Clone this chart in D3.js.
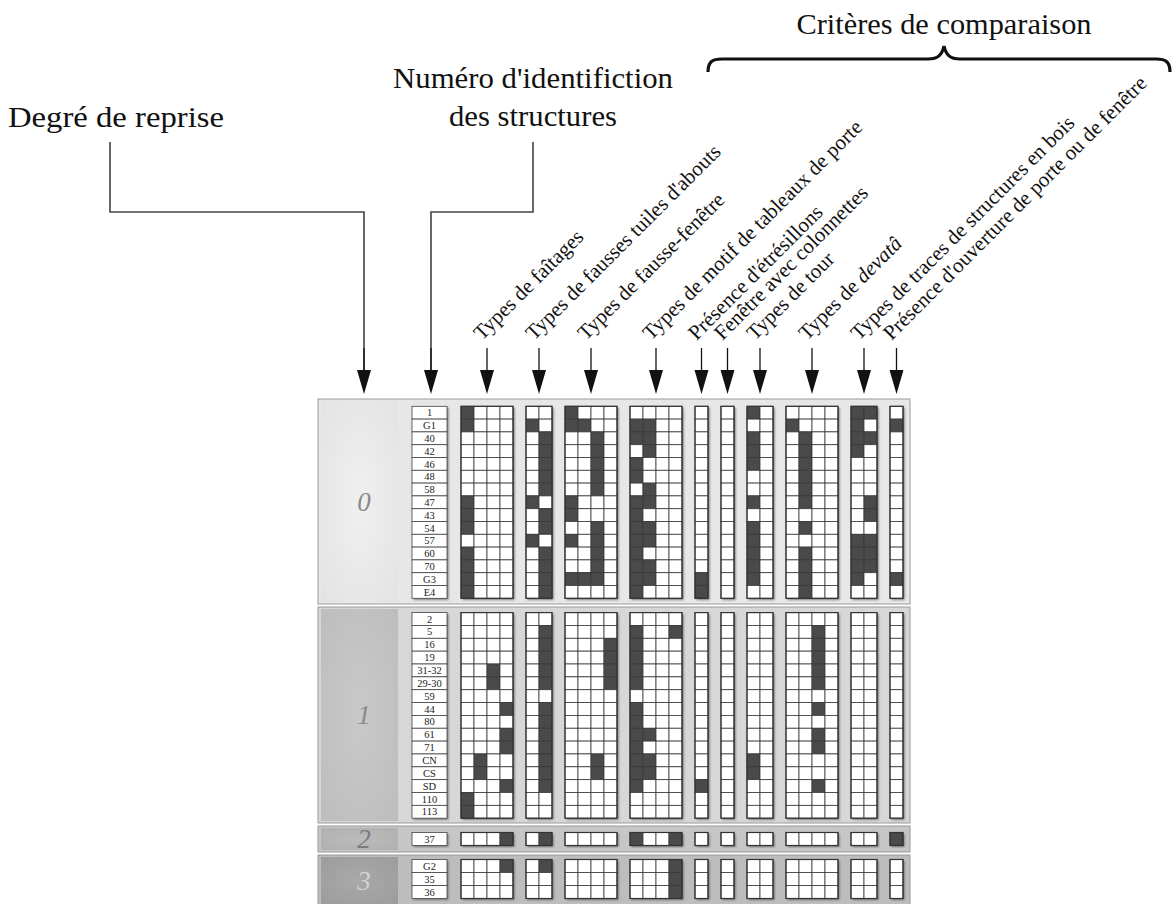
<!DOCTYPE html>
<html><head><meta charset="utf-8">
<script src="https://cdn.jsdelivr.net/npm/d3@7"></script>
<style>
body{margin:0;background:#fff}
text{font-family:"Liberation Serif","DejaVu Serif",serif}
</style>
</head><body>
<svg id="c" width="1173" height="904"></svg>
<script>
// ---------------- DATA ----------------
const groupLabels = ["0", "1", "2", "3"];
const ids0 = ["1","G1","40","42","46","48","58","47","43","54","57","60","70","G3","E4"];
const ids1 = ["2","5","16","19","31-32","29-30","59","44","80","61","71","CN","CS","SD","110","113"];
const ids2 = ["37"];
const ids3 = ["G2","35","36"];
const criteria = [
  "Types de faîtages",
  "Types de fausses tuiles d'abouts",
  "Types de fausse-fenêtre",
  "Types de motif de tableaux de porte",
  "Présence d'étrésillons",
  "Fenêtre avec colonnettes",
  "Types de tour",
  "Types de |devatâ",
  "Types de traces de structures en bois",
  "Présence d'ouverture de porte ou de fenêtre"
];
const criteriaCols = [4, 2, 4, 4, 1, 1, 2, 4, 2, 1];
// one string per structure: filled cells (1) per criterion block
const cells0 = [
  "1000 00 1000 0000 0 0 10 0000 11 0", // 1
  "1000 10 1100 1100 0 0 00 1000 10 1", // G1
  "0000 01 0010 1100 0 0 10 0100 11 0", // 40
  "0000 01 0010 0100 0 0 10 0100 10 0", // 42
  "0000 01 0010 1000 0 0 10 0100 00 0", // 46
  "0000 01 0010 1000 0 0 00 0100 00 0", // 48
  "0000 01 0010 0100 0 0 00 0100 00 0", // 58
  "1000 10 1000 1100 0 0 10 0100 01 0", // 47
  "1000 01 1000 1000 0 0 00 0000 01 0", // 43
  "1000 01 0010 1100 0 0 10 0100 00 0", // 54
  "0000 10 1010 1100 0 0 10 0000 11 0", // 57
  "1000 01 0010 1000 0 0 10 0100 11 0", // 60
  "1000 01 0010 1100 0 0 10 0100 11 0", // 70
  "1000 01 1110 1100 1 0 10 0100 10 1", // G3
  "1000 01 0000 1000 1 0 00 0100 00 0"  // E4
];
const cells1 = [
  "0000 00 0000 0000 0 0 00 0000 00 0", // 2
  "0000 01 0000 1001 0 0 00 0010 00 0", // 5
  "0000 01 0001 1000 0 0 00 0010 00 0", // 16
  "0000 01 0001 1000 0 0 00 0010 00 0", // 19
  "0010 01 0001 1000 0 0 00 0010 00 0", // 31-32
  "0010 01 0001 1000 0 0 00 0010 00 0", // 29-30
  "0000 00 0000 0000 0 0 00 0000 00 0", // 59
  "0001 01 0000 1000 0 0 00 0010 00 0", // 44
  "0000 01 0000 1000 0 0 00 0000 00 0", // 80
  "0001 01 0000 1100 0 0 00 0010 00 0", // 61
  "0001 01 0000 1000 0 0 00 0010 00 0", // 71
  "0100 01 0010 1100 0 0 10 0000 00 0", // CN
  "0100 01 0010 1100 0 0 10 0000 00 0", // CS
  "0001 01 0000 1000 1 0 00 0010 00 0", // SD
  "1000 00 0000 0000 0 0 00 0000 00 0", // 110
  "1000 00 0000 0000 0 0 00 0000 00 0"  // 113
];
const cells2 = [
  "0001 01 0000 1001 0 0 00 0000 00 1"  // 37
];
const cells3 = [
  "0001 01 0000 0001 0 0 00 0000 00 0", // G2
  "0000 00 0000 0001 0 0 00 0000 00 0", // 35
  "0000 00 0000 0001 0 0 00 0000 00 0"  // 36
];

// ---------------- LAYOUT ----------------
const svg = d3.select("#c");
const defs = svg.append("defs");

const groups = [
  {label: groupLabels[0], ids: ids0, cells: cells0, top: 399, bottom: 604, rowTop: 406.3, rowH: 12.8, bg: "#e7e7e7", lab: "#f0f0f0", labEdge: "#e3e3e3", num: "#8a8a8a"},
  {label: groupLabels[1], ids: ids1, cells: cells1, top: 607, bottom: 823, rowTop: 612.6, rowH: 12.85, bg: "#d7d7d7", lab: "#c9c9c9", labEdge: "#bdbdbd", num: "#8a8a8a"},
  {label: groupLabels[2], ids: ids2, cells: cells2, top: 826, bottom: 852, rowTop: 832.5, rowH: 13, bg: "#c6c6c6", lab: "#bbbbbb", labEdge: "#b0b0b0", num: "#7a7a7a"},
  {label: groupLabels[3], ids: ids3, cells: cells3, top: 855, bottom: 906, rowTop: 859.5, rowH: 13, bg: "#bdbdbd", lab: "#a9a9a9", labEdge: "#9c9c9c", num: "#d2d2d2"}
];

// column scale in cell units: blocks separated by one empty unit
const starts = [];
let u = 0;
criteriaCols.forEach(n => { starts.push(u); u += n + 1; });
const totalUnits = u - 1;
const x = d3.scaleLinear().domain([0, totalUnits]).range([461, 903]);
const cw = x(1) - x(0);

const panelL = 318, panelR = 910, labR = 399;
const idL = 412, idR = 447;

groups.forEach((g, i) => {
  const gr = defs.append("radialGradient").attr("id", "lg" + i)
    .attr("cx", "50%").attr("cy", "50%").attr("r", "70%");
  gr.append("stop").attr("offset", "0%").attr("stop-color", g.lab);
  gr.append("stop").attr("offset", "100%").attr("stop-color", g.labEdge);
});
const sh = defs.append("filter").attr("id", "sh").attr("x", "-20%").attr("y", "-5%").attr("width", "140%").attr("height", "110%");
sh.append("feGaussianBlur").attr("stdDeviation", 1.2);

groups.forEach((g, i) => {
  svg.append("rect").attr("x", panelL).attr("y", g.top).attr("width", panelR - panelL).attr("height", g.bottom - g.top)
    .attr("fill", g.bg).attr("stroke", "#9a9a9a").attr("stroke-width", 1);
  svg.append("rect").attr("x", panelL + 3).attr("y", g.top + 2).attr("width", labR - panelL - 4).attr("height", g.bottom - g.top - 4)
    .attr("fill", `url(#lg${i})`);
  svg.append("text").attr("x", 364).attr("y", (g.top + g.bottom) / 2 + 9)
    .attr("text-anchor", "middle").attr("font-size", 27).attr("font-style", "italic")
    .attr("fill", g.num).text(g.label);

  const y = d3.scaleBand().domain(g.ids).range([g.rowTop, g.rowTop + g.rowH * g.ids.length]);
  const y0 = y.range()[0], y1 = y.range()[1];

  svg.append("rect").attr("x", idL + 1.5).attr("y", y0 + 1.5).attr("width", idR - idL).attr("height", y1 - y0)
    .attr("fill", "#777").attr("filter", "url(#sh)");
  svg.selectAll(null).data(g.ids).join("rect")
    .attr("x", idL).attr("y", d => y(d)).attr("width", idR - idL).attr("height", y.bandwidth())
    .attr("fill", "#fff").attr("stroke", "#444").attr("stroke-width", 0.8);
  svg.selectAll(null).data(g.ids).join("text")
    .attr("x", (idL + idR) / 2).attr("y", d => y(d) + y.bandwidth() / 2 + 3.6)
    .attr("text-anchor", "middle").attr("font-size", 10.5).attr("fill", "#222").text(d => d);

  criteriaCols.forEach((n, b) => {
    const bx = x(starts[b]);
    svg.append("rect").attr("x", bx + 1.5).attr("y", y0 + 1.5).attr("width", n * cw).attr("height", y1 - y0)
      .attr("fill", "#6f6f6f").attr("filter", "url(#sh)");
    const cellData = [];
    g.ids.forEach((id, r) => {
      const pat = g.cells[r].split(" ")[b];
      for (let c = 0; c < n; c++) cellData.push({id, c, v: pat[c] === "1"});
    });
    svg.selectAll(null).data(cellData).join("rect")
      .attr("x", d => x(starts[b] + d.c)).attr("y", d => y(d.id))
      .attr("width", cw).attr("height", y.bandwidth())
      .attr("fill", d => d.v ? "#4a4a4a" : "#fff")
      .attr("stroke", "#3a3a3a").attr("stroke-width", 0.8);
    svg.append("rect").attr("x", bx).attr("y", y0).attr("width", n * cw).attr("height", y1 - y0)
      .attr("fill", "none").attr("stroke", "#333").attr("stroke-width", 1.2);
  });
});

// ---------------- HEADER ----------------
function arrow(ax) {
  svg.append("line").attr("x1", ax).attr("x2", ax).attr("y1", 348).attr("y2", 374)
    .attr("stroke", "#111").attr("stroke-width", 1.3);
  svg.append("path").attr("d", `M${ax - 7},370 L${ax + 7},370 L${ax},394 Z`).attr("fill", "#111");
}
const idX = (idL + idR) / 2 + 1.5, degX = 364;
svg.append("path").attr("d", `M110,142 V212 H${degX} V372`).attr("fill", "none").attr("stroke", "#444").attr("stroke-width", 1.6);
svg.append("path").attr("d", `M533,142 V212 H${idX} V372`).attr("fill", "none").attr("stroke", "#444").attr("stroke-width", 1.6);
arrow(degX);
arrow(idX);

criteria.forEach((t, b) => {
  const ax = x(starts[b]) + criteriaCols[b] * cw / 2;
  arrow(ax);
  const txt = svg.append("text").attr("transform", `translate(${ax - 5},341) rotate(-45)`)
    .attr("font-size", 21).attr("fill", "#111");
  const parts = t.split("|");
  txt.append("tspan").text(parts[0]);
  if (parts[1]) txt.append("tspan").attr("font-style", "italic").text(parts[1]);
});

function heading(t, xx, yy, anchor, len) {
  svg.append("text").attr("x", xx).attr("y", yy).attr("text-anchor", anchor)
    .attr("font-size", 30).attr("fill", "#111")
    .attr("textLength", len).attr("lengthAdjust", "spacingAndGlyphs").text(t);
}
heading("Degré de reprise", 8, 127, "start", 216);
heading("Numéro d'identifiction", 533, 88, "middle", 280);
heading("des structures", 533, 126, "middle", 168);
heading("Critères de comparaison", 944, 34, "middle", 295);

svg.append("path")
  .attr("d", "M708,72 C708,62 712,59 722,59 L928,59 C938,59 942,55 944,46 C946,55 950,59 960,59 L1156,59 C1166,59 1170,62 1170,72")
  .attr("fill", "none").attr("stroke", "#111").attr("stroke-width", 3.2);
</script>
</body></html>
